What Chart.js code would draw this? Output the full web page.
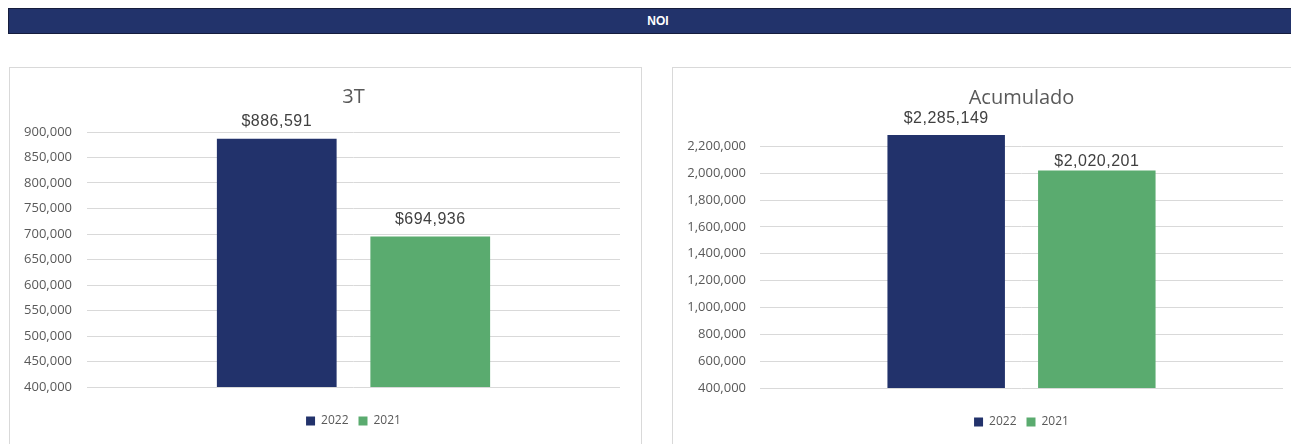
<!DOCTYPE html>
<html>
<head>
<meta charset="utf-8">
<script src="https://cdn.jsdelivr.net/npm/chart.js@4"></script>
<style>
  html, body { margin: 0; padding: 0; background: #fff; overflow: hidden; }
  body { width: 1291px; height: 444px; position: relative; }
  #banner {
    position: absolute; left: 8px; top: 8px; width: 1298px; height: 24px;
    background: #22336b; border: 1px solid #151d3d;
    color: #fff; font: bold 12px "Liberation Sans", Arial, sans-serif;
    text-align: center; line-height: 24px;
  }
  .panel { position: absolute; border: 1px solid #d9d9d9; background: #fff; }
  canvas { position: absolute; }
</style>
</head>
<body>
<div id="banner">NOI</div>
<div class="panel" style="left:9px; top:67px; width:631px; height:400px;"></div>
<div class="panel" style="left:672px; top:67px; width:640px; height:400px;"></div>
<canvas id="chart3T" width="630" height="376" style="left:10px; top:68px;"></canvas>
<canvas id="chartAcum" width="618" height="376" style="left:673px; top:69px;"></canvas>
<script>
// NOI por periodo
var series = ['2022', '2021'];
var colores = ['#22326b', '#5aab6f'];

var trimestre = [886591, 694936];      // 3T
var acumulado = [2285149, 2020201];    // Acumulado

var ticks3T = [400000, 450000, 500000, 550000, 600000, 650000, 700000, 750000, 800000, 850000, 900000];
var ticksAcum = [400000, 600000, 800000, 1000000, 1200000, 1400000, 1600000, 1800000, 2000000, 2200000];

function money(v) {
    return '$' + v.toLocaleString('en-US');
}

// etiquetas encima de las barras
var barLabels = {
    id: 'barLabels',
    afterDatasetsDraw: function(chart, args, opts) {
        var ctx = chart.ctx;
        ctx.save();
        ctx.font = '16px "Liberation Sans", Arial, sans-serif';
        ctx.letterSpacing = '0.5px';
        ctx.fillStyle = '#404040';
        ctx.textAlign = 'center';
        ctx.textBaseline = 'middle';
        chart.data.datasets.forEach(function(ds, i) {
            var bar = chart.getDatasetMeta(i).data[0];
            ctx.fillText(money(ds.data[0]), bar.x, bar.y - opts.offsets[i]);
        });
        ctx.restore();
    }
};

function makeChart(id, title, values, tickList, min, max, step, yWidth, tickPad, padRight, offsets) {
    var ctx = document.getElementById(id).getContext('2d');
    return new Chart(ctx, {
        type: 'bar',
        data: {
            labels: [title],
            datasets: series.map(function(s, i) {
                return {
                    label: s,
                    data: [values[i]],
                    backgroundColor: colores[i],
                    borderWidth: 0
                };
            })
        },
        options: {
            responsive: false,
            animation: false,
            categoryPercentage: 0.576,
            barPercentage: 0.78,
            layout: {
                padding: { top: 0, left: 0, right: padRight, bottom: 7 }
            },
            scales: {
                x: {
                    grid: { display: false },
                    border: { display: false },
                    ticks: { display: false },
                    afterFit: function(scale) { scale.height = 18; }
                },
                y: {
                    min: min,
                    max: max,
                    ticks: {
                        stepSize: step,
                        padding: tickPad,
                        color: '#595959',
                        font: { family: '"Open Sans"', size: 13 },
                        callback: function(v) { return v.toLocaleString('en-US'); }
                    },
                    afterBuildTicks: function(scale) {
                        scale.ticks = tickList.map(function(v) { return { value: v }; });
                    },
                    afterFit: function(scale) { scale.width = yWidth; },
                    grid: { color: '#d9d9d9', drawTicks: false },
                    border: { display: false }
                }
            },
            plugins: {
                title: {
                    display: true,
                    text: title,
                    fullSize: false,
                    color: '#595959',
                    font: { family: '"Open Sans"', size: 20, weight: 'normal' },
                    padding: { top: 17, bottom: 23 }
                },
                legend: {
                    display: true,
                    position: 'bottom',
                    fullSize: false,
                    labels: {
                        color: '#595959',
                        boxWidth: 9,
                        boxHeight: 9,
                        padding: 10,
                        font: { family: '"Open Sans"', size: 12 }
                    }
                },
                tooltip: { enabled: false },
                barLabels: { offsets: offsets }
            }
        },
        plugins: [barLabels]
    });
}

makeChart('chart3T', '3T', trimestre, ticks3T, 400000, 900000, 50000, 77, 15, 20, [17, 17]);
makeChart('chartAcum', 'Acumulado', acumulado, ticksAcum, 400000, 2300000, 200000, 87, 14, 8, [16, 9]);
</script>
</body>
</html>
